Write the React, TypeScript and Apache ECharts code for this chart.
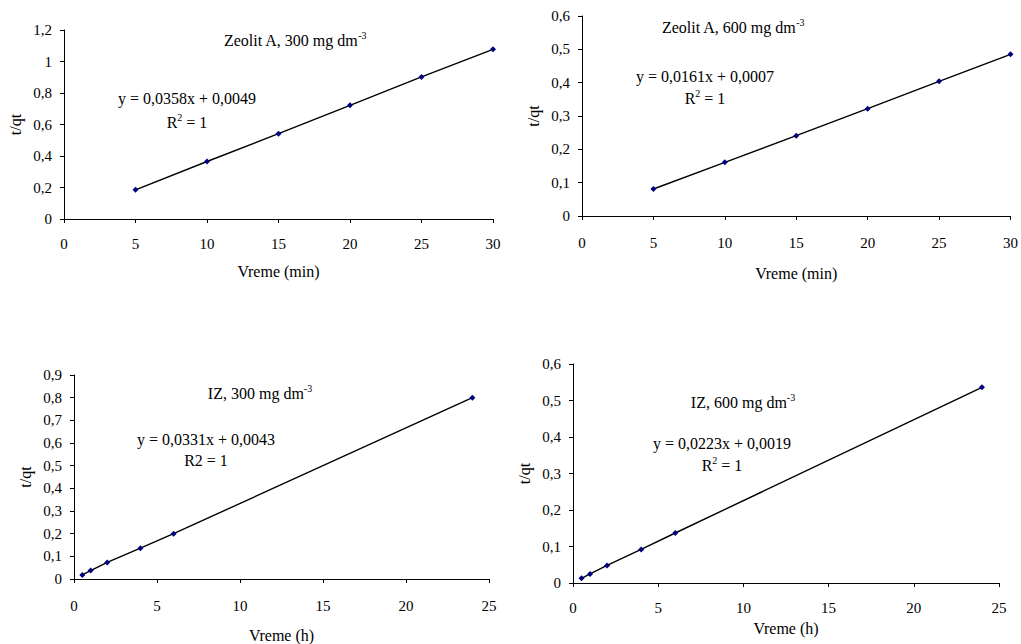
import React, { useEffect, useRef } from "react";
import * as echarts from "echarts";

// Chart 1: Zeolit A, 300 mg dm-3
const zeo300X = [5, 10, 15, 20, 25, 30];
const zeo300Y = [0.185, 0.365, 0.542, 0.722, 0.902, 1.077];
// Chart 2: Zeolit A, 600 mg dm-3
const zeo600X = [5, 10, 15, 20, 25, 30];
const zeo600Y = [0.081, 0.161, 0.241, 0.322, 0.404, 0.485];
// Chart 3: IZ, 300 mg dm-3
const iz300X = [0.5, 1, 2, 4, 6, 24];
const iz300Y = [0.018, 0.037, 0.073, 0.136, 0.2, 0.8];
// Chart 4: IZ, 600 mg dm-3
const iz600X = [0.5, 1, 2, 4, 6, 24];
const iz600Y = [0.013, 0.025, 0.048, 0.092, 0.137, 0.536];

const FONT = "'Liberation Serif', 'Times New Roman', serif";

const fmt = (v: number) => String(Number(v.toFixed(2))).replace(".", ",");

function pairs(xs: number[], ys: number[]) {
  return xs.map((x, i) => [x, ys[i]]);
}

const grids = [
  { left: 64, top: 30, width: 429, height: 189 },
  { left: 582, top: 16, width: 429, height: 200 },
  { left: 74, top: 375, width: 415, height: 205 },
  { left: 573, top: 364, width: 426, height: 219 },
];

const xCfg = [
  { max: 30, name: "Vreme (min)", gap: 44, margin: 17 },
  { max: 30, name: "Vreme (min)", gap: 49, margin: 19 },
  { max: 25, name: "Vreme (h)", gap: 48, margin: 19 },
  { max: 25, name: "Vreme (h)", gap: 37, margin: 17 },
];
const yCfg = [
  { max: 1.2, interval: 0.2 },
  { max: 0.6, interval: 0.1 },
  { max: 0.9, interval: 0.1 },
  { max: 0.6, interval: 0.1 },
];

const seriesData = [
  pairs(zeo300X, zeo300Y),
  pairs(zeo600X, zeo600Y),
  pairs(iz300X, iz300Y),
  pairs(iz600X, iz600Y),
];

const rich = {
  b: { fontSize: 16, fontFamily: FONT, color: "#000", lineHeight: 20 },
  s: { fontSize: 10, fontFamily: FONT, color: "#000", verticalAlign: "top", lineHeight: 20 },
};

function txt(x: number, y: number, text: string) {
  return {
    type: "text",
    x,
    y,
    style: {
      text,
      rich,
      align: "center",
      verticalAlign: "middle",
      fill: "#000",
      font: `16px ${FONT}`,
    },
  };
}

export default function App() {
  const ref = useRef<HTMLDivElement>(null);
  useEffect(() => {
    if (!ref.current) return;
    const chart = echarts.init(ref.current, null, { renderer: "svg" });
    const axisLine = { show: true, lineStyle: { color: "#000", width: 1 } };
    const axisTick = { show: true, inside: false, length: 4, lineStyle: { color: "#000" } };
    const labelStyle = { color: "#000", fontFamily: FONT, fontSize: 15 };
    const nameStyle = { color: "#000", fontFamily: FONT, fontSize: 16 };
    chart.setOption({
      animation: false,
      backgroundColor: "#fff",
      grid: grids.map((g) => ({ ...g, containLabel: false })),
      xAxis: xCfg.map((c, i) => ({
        type: "value",
        gridIndex: i,
        min: 0,
        max: c.max,
        interval: 5,
        axisLine: { ...axisLine, onZero: false },
        axisTick,
        splitLine: { show: false },
        axisLabel: { ...labelStyle, margin: c.margin, formatter: fmt },
        name: c.name,
        nameLocation: "middle",
        nameGap: c.gap,
        nameTextStyle: nameStyle,
      })),
      yAxis: yCfg.map((c, i) => ({
        type: "value",
        gridIndex: i,
        min: 0,
        max: c.max,
        interval: c.interval,
        axisLine: { ...axisLine, onZero: false },
        axisTick,
        splitLine: { show: false },
        axisLabel: { ...labelStyle, margin: 12, formatter: fmt },
        name: "t/qt",
        nameLocation: "middle",
        nameGap: 41,
        nameRotate: 90,
        nameTextStyle: nameStyle,
      })),
      series: seriesData.map((d, i) => ({
        type: "line",
        xAxisIndex: i,
        yAxisIndex: i,
        data: d,
        symbol: "diamond",
        symbolSize: 6,
        showSymbol: true,
        lineStyle: { color: "#000", width: 1.4 },
        itemStyle: { color: "#000080" },
        z: 3,
      })),
      graphic: [
        txt(295, 40, "{b|Zeolit A, 300 mg dm}{s|-3}"),
        txt(187, 98, "{b|y = 0,0358x + 0,0049}"),
        txt(187, 122, "{b|R}{s|2}{b| = 1}"),
        txt(733, 27, "{b|Zeolit A, 600 mg dm}{s|-3}"),
        txt(705, 76, "{b|y = 0,0161x + 0,0007}"),
        txt(705, 98, "{b|R}{s|2}{b| = 1}"),
        txt(260, 393, "{b|IZ, 300 mg dm}{s|-3}"),
        txt(206, 439, "{b|y = 0,0331x + 0,0043}"),
        txt(206, 460, "{b|R2 = 1}"),
        txt(743, 402, "{b|IZ, 600 mg dm}{s|-3}"),
        txt(722, 443, "{b|y = 0,0223x + 0,0019}"),
        txt(722, 465, "{b|R}{s|2}{b| = 1}"),
      ],
    });
    return () => chart.dispose();
  }, []);
  return (
    <div
      ref={ref}
      style={{ position: "fixed", left: 0, top: 0, width: 1021, height: 644, background: "#fff" }}
    />
  );
}
